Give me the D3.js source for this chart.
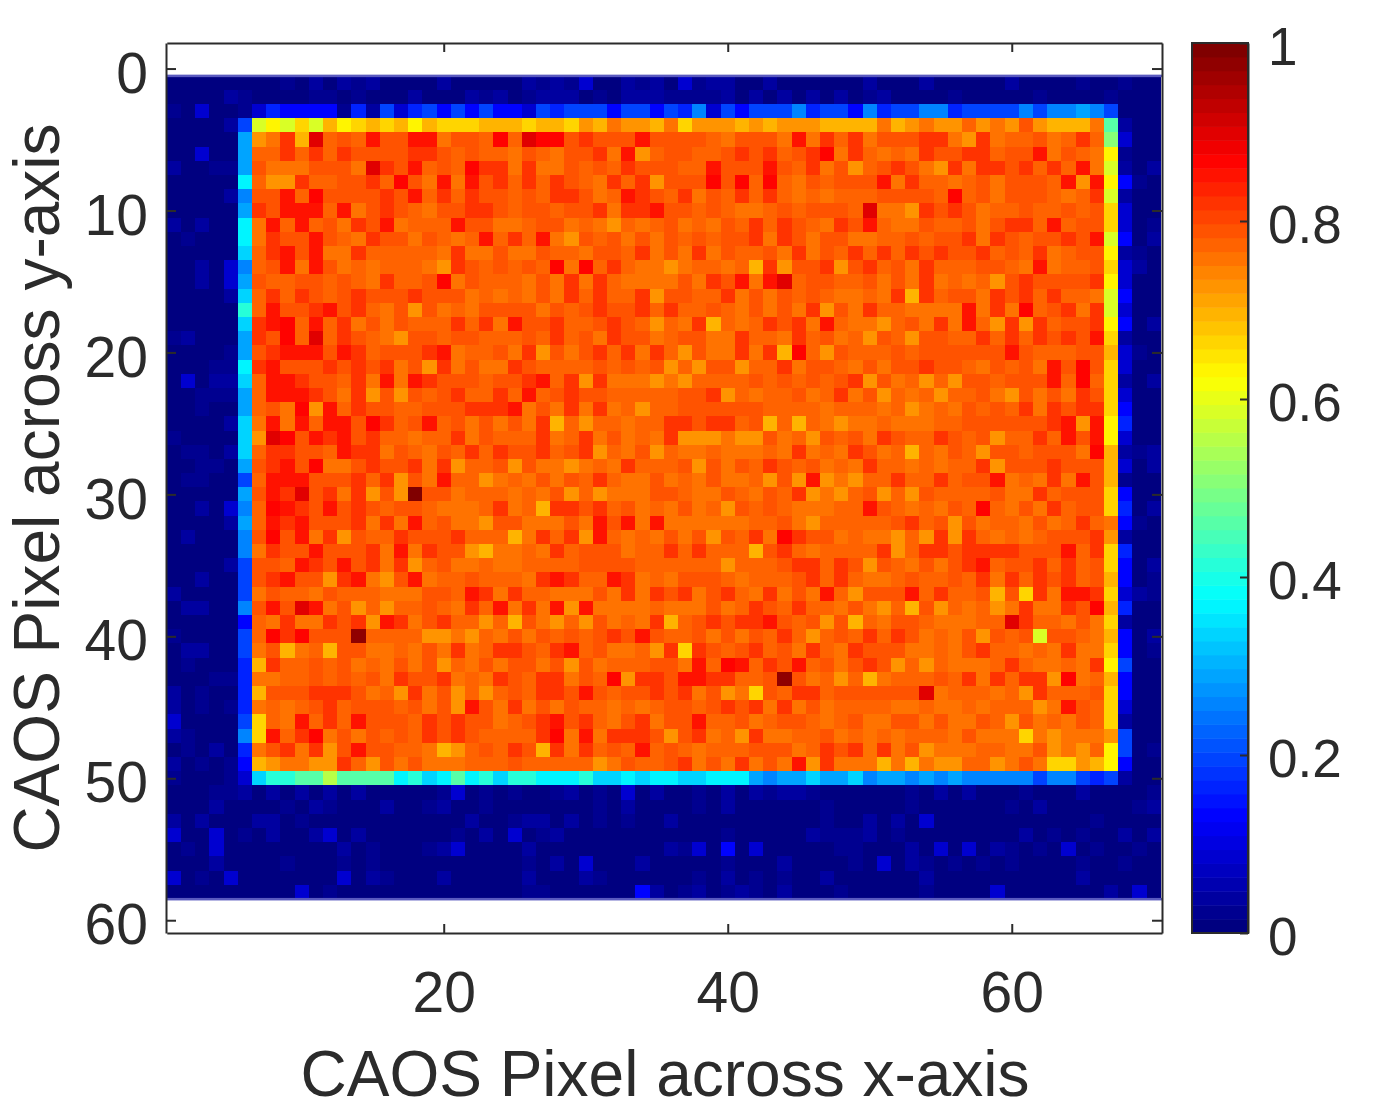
<!DOCTYPE html>
<html>
<head>
<meta charset="utf-8">
<script src="https://cdn.jsdelivr.net/npm/d3@7"></script>
<style>
  html, body { margin: 0; background: #fff; }
  svg { display: block; filter: blur(0.7px); }
  text { font-family: "Liberation Sans", Arial, sans-serif; fill: #2b2b2b; }
</style>
</head>
<body>
<div id="chart"></div>
<script>
// keys used in the rows below and the value each one stands for
var levelKeys = "abcdefghijklmnopqrstuvwxyzABC";
var levelValues = [0, .02, .045, .08, .125, .16, .2, .25, .29, .33, .37, .41, .46, .5, .55, .58, .625,
  .66, .695, .72, .75, .775, .795, .82, .845, .862, .906, .969, 1];

var xTicks = [20, 40, 60];
var yTicks = [0, 10, 20, 30, 40, 50, 60];
var barTicks = [0, 0.2, 0.4, 0.6, 0.8, 1];

// one string per image row, 70 columns (spaces only for reading)
var pixelRows = [
  "aaaaaaaaba cacbcaaaac aaaaacbcbd aacbcadbcc aacaaaaaac aaacaaaaac aaaabaabaa",
  "aaaacbaaaa bbabaaacaa acbcabccca bacccbbbbc acacacacab caaaabaaaa abaaaabaaa",
  "badaabdfee eebfcgdfge gegeedgfgg geggegfhdg eggghfggeh fgghhfgggg hghhihgaaa",
  "aaaacgpqpr psqrsrsqsr rrsssrssrt suttsurttt ststttssss ustuttvtut wtsssumcaa",
  "aaaaaituxs Avwvywwyyu wwvzvAzzwx wwwywwwwvu wwwuyuxvxu wwwxxutxuv vwuvxvndaa",
  "aadaaivvxv xvxwwwwxxw vwvvuwvuww xuytvwwvvw xwxvwxzuxv uvuxwwxxvw wyuwvuqbaa",
  "caabbiwuuu wwwuAxwyvw vzxxuxuuwv wvxwwwvvyw wwywvxuwtv wxwutxuxxw xvxvyupcac",
  "aaaaakvttx vvwwxvzwuy uywxvxvxwv uxvxtwwwzw zvzvuwvwww yuxvvuvwuw wwvytyqeba",
  "aaaachwwyv zwwwwxwyvx vxwwvwvxxw uvyxwvxuwv xvxvuvuvvv wwwwvzvwuw wwvuvxpcaa",
  "aaaaaixwyy yvyuwxwvuw wxxwvwwvww xuxxywwvwv uuvwvwwwvA uutxwxwuvv wvvwvwrdaa",
  "cacaakuyvy vwuxwyuvvv ywwuuvwwuv utvuvwuvuw vxvxwvuxwy vuuwvvwuwx xvyvwwrdab",
  "abaaakuxww ywvuxwwuwv uvyvxvyutw vwuwuwvwvw wxuxwuwwuu vvwvwwxuxw vwwxwypeac",
  "aaaaajvxyw yuuxvvvvvu xuuwuuwvvu wwvxuwuxuw vvwuxuwvxv xvxwxwwxvw vxuvwwqcba",
  "aacadhvwyu ywuvuvvvut xwvwvwvzuz vxvuutuvvu vsxtwwxtwx vwuxvvvwwv uyuvvwrdca",
  "aacadiwvvw wvwvuxvvwz uwvvvuwuxu xvuuuuwuxw yuyAvwwvvw uwuxuvuvtw xwwwwxqdaa",
  "aaaacjvxvx wvwxwwwxww wuvuvuwuxv xvvxtwwvvx uwuwvwvuuv uxsxvwwuxw xvxvvupeaa",
  "aaaaalvyww xywxvuwtwu vuwwwwuwvw xwwxvxvvwv uwuwuxtwux vvuuuuyuxu zvwxuxpdaa",
  "aaaaajxyzv yvxuwuwvvv xvxuywwxvv wxwvtvuxsv uvxwxuyvuu tvwuxuyvtx txvwwxqeac",
  "bcaaaixwzv Avxwvutwwv wwvvvwvxvw uxwwuvwwuu xvvuxvwuvt wvtwwvvxvx vxwxwyrcaa",
  "aaaabiwxyy ywyxvwwwxy uvvwuxtwuw xvxuxvtwuu xuxszvtwvv vwvwwwwwwy wvvvwwsdba",
  "aaabbkxyww wxwxwxuwtx uwuuxwvvvv wvwvwtvtww tvvxuwwvuw uwwxwwvuwv wuywzwrdaa",
  "adaccjvyyx wwvxuyuyxw wwvwwxyvxt xuuututvvv vwvwvwvwxt wuvtvtwwvw wwyvzvrcac",
  "aabbbivyyy xwuxtwtwvw xvvxvyvwxw wvvvvvwwxt vuvvwuvxuw tvuvtvvwut wuwuxwrdaa",
  "aabaaivwuz tyvxwwvvww wxxxyuwuxu xuvtvvwwww wwvvvvuvvv uvtuvuwvwv xuxwxxreaa",
  "aaaacjuyuy vyywzxvwyv wuwuwuxsvt vvuvvxxwxx vwsvsvutuu vuuuvvwwww wwxytyqfaa",
  "baaaajtAzw yxywxvvuvv xuwvvvxuvx uwuvuxtttu ttwuvtwvwu xwvvxwvwtv vxvywyqdaa",
  "abbacjvxxw wvyxxuwvuw vxvxwwxvwx tvuwtvuuvu uuvuxuvuxw uvsvuwvtww vwwwuzscbc",
  "aabbaiwxyw zuuwxwwxux tvvwtwuutu vuxvvvwtwu wvxwvwuvux vvuvuvvxtw wwxwwwsdac",
  "abbaagvyyy wwwxvxtwuy vvtuvuwuwv xvuuwuvuwu uvtwtytutv vxvvxvwwyu vuxuywsbaa",
  "aaaaaiwyxA wxuxtwtCww uvvvuvuwtv tuuuwwvuuw vuwvxtutvw tvtwvvvvwu uxvwwwreaa",
  "aacadhvzyx wywxwvwwvu uuvxuvsxxw xvwuvuwuvt wvwvuuuvvy wvuvuwvzvu wuxvwwrfac",
  "aaaacivyxy wwwxuxuyvw uutwwuuuwu ywyuyuuuuu uvvwutvvvv vwxvwtwuvv uwuvxvueba",
  "acaaahwzwy uxtwvvxwww xvvvsuxvxt yvuvuwuwtw vxuzxwwuvu utvtxtxvuv uvwwwxtcaa",
  "aaaaahuxww ywwwxuyuxw wtsuuvuxvw wwuvvxvxvv vswxvuvvvv xtvxxwxxxx wwwyvxrfaa",
  "aaaacgwwvy xwywxuxtvw uuvuuvvvvw wwwvvvvvvt vvvwxxvxwt wvuwuwxyvw wxvxvwreac",
  "aacaagwxyw wtxyutwyuv vwvvvuxyxv vyxuvuwwwv uvvvwxvxvu uvwvvwvxux vxwxvwseab",
  "caaaaguwvv uwvvvuuuww vyxuxvvuuu wuxuxwxuwx vuxuwuyvtw wwyvxvvwsw rxuyyxrdcb",
  "accaahwywA yuwtvtvvwv uxvyuxuyty uuuuvuuuwu vxwvxvvuwu tvswtvuvtu xuuxwzsfaa",
  "aaaaaevuxu uxwxtyxuwx vvtvswutvt wuvuxsvwxw xxywvwtwsv uwwvuuuvvA xvvuwurcaa",
  "baaaagvzxz wwwBvvvvtt utvuwuwvwv wxwywvvwuw uwvxvtvwvx vxwuvuwtwv wpwwvuseac",
  "accaaguwsu vswwuuvuwu xuvxxwvxyv wuuvtxrxwv wxvwuxvuxw wwuuvuwxvv uvuxuureab",
  "abaaafsxvv wvwuvuwuwt vuwuwwuwtw uvvvwwuyvz yvxwyvwuwx wtvtvuuuvx vuuvuxqgaa",
  "aaabbfuuvv wvwvwuxwwx uvuxwvxxuw vztxxwyyxx vvwBwuvtvs uvvvwvxuxv xxtzuvseaa",
  "cabaafswww xxxwuvtxuw tvtvwvxxwy wvwwxwxuwt urwvxxvwww wwwAuvvvuv txvvvwreaa",
  "cababfuvuv wxvwwwvwuw tywuxuwuwv vuvuvwwvwx wxuxuwuvvv vuuvuuvuvv vtuywvrdaa",
  "daaaagrvuy vxvywwwvxw xwwuvwxywx vuwxuwwyvv wuvwwvuvwu uwwuwuuwvt wuvuwvrcaa",
  "cbaaahryvx zuwuwvwvxw xwvvvvxzuy uxxxwtwxuv txuuvvwuvu vuvvvuwuuu rutuuutgaa",
  "abacafuwxu xtwywwvvus tvwvxwsxux vwvyvwvuvv vwwwuvxwxu xuwtuuuvvu uwtutvqgab",
  "cababestuu ttxvtwuwuu uvvvwvvvvv tuwvvwxuwu xuwuytxuuu susuttvvtu wurrtsqeaa",
  "baaabdjllm mommmmkljk mkljllkkkl jjkjkkjjkk kihiijiijh iihihihhhh hghhgfgcaa",
  "aaabbcacac acacaaaaab dababaabca badacaabac acbccbaaaa aabacacaaa baaacaaaab",
  "aaacaaaaba cbaaacaabc aabaaaaaaa bacaaaabac aaaaaabaaa aabaaaaaab acaaaaaabc",
  "cacaaaccab aaaaaaaaaa acaabccaca babaacaaaa aaaaaabaac acadaaaaaa aaaaabaaaa",
  "daadabacaa cdacaaaaaa bacadabcaa aaaaaaaaab aaaaacbbbc abaaaaaaaa cababaacac",
  "abadaaaaaa aacabaaabc daaaacaaaa aaaaacbdae adaaaaabba aacadadacb abadabaaba",
  "aaacaaaaba aababaaaaa aaaaabacad aaacaaaaab aaacaaaaba dacbababab aaaabaabaa",
  "dabadaaaaa aadacbaaac aaaaacaaac baaaaaabac ababaacaaa aaacaaaaaa aaaacaaaaa",
  "aaaaaaaaad abaaaaaaaa aaaaabbaaa aaaecabcab cbacaaabaa aaabaaaada aaaaaacada"
];

function jet(v) {
  // matlab jet, 64 steps like the colorbar
  var t = Math.min(Math.floor(v * 64), 63) / 63;
  function ramp(c) { return Math.max(0, Math.min(1, 1.5 - Math.abs(4 * t - c))); }
  return d3.rgb(ramp(3) * 255, ramp(2) * 255, ramp(1) * 255).formatHex();
}

var width = 1386, height = 1119;
var ink = "#2b2b2b";

var svg = d3.select("#chart").append("svg")
  .attr("width", width)
  .attr("height", height);

var x = d3.scaleLinear().domain([0.5, 70.58]).range([166.8, 1162]);
var y = d3.scaleLinear().domain([-1.8, 60.9]).range([43, 933]);
var barY = d3.scaleLinear().domain([0, 1]).range([933, 43]);

// heatmap cells
var cells = [];
pixelRows.forEach(function(row, r) {
  row.replace(/ /g, "").split("").forEach(function(key, c) {
    cells.push({ col: c + 1, row: r + 1, value: levelValues[levelKeys.indexOf(key)] });
  });
});

svg.append("g").selectAll("rect").data(cells).join("rect")
  .attr("x", function(d) { return x(d.col - 0.5); })
  .attr("y", function(d) { return y(d.row - 0.5); })
  .attr("width", x(1) - x(0))
  .attr("height", y(1) - y(0))
  .attr("shape-rendering", "crispEdges")
  .attr("fill", function(d) { return jet(d.value); });

// soft lavender rim the scaled image has at its top and bottom
svg.append("g").selectAll("rect").data([0.5, pixelRows.length + 0.5]).join("rect")
  .attr("x", x(0.5))
  .attr("y", function(d) { return y(d) - 1; })
  .attr("width", x(70.58) - x(0.5))
  .attr("height", 2.5)
  .attr("fill", "#5a5abf");

function styleAxis(g, size) {
  g.selectAll("path").attr("stroke", ink).attr("stroke-width", 2);
  g.selectAll("line").attr("stroke", ink).attr("stroke-width", 2);
  g.selectAll("text").attr("fill", ink).style("font-size", (size || 57) + "px");
}

// box axes, ticks point inward
svg.append("g").attr("transform", "translate(0,933)")
  .call(d3.axisBottom(x).tickValues(xTicks).tickSize(-9).tickSizeOuter(0).tickPadding(39))
  .call(styleAxis);
svg.append("g").attr("transform", "translate(0,43)")
  .call(d3.axisTop(x).tickValues(xTicks).tickSize(-9).tickSizeOuter(0).tickFormat(""))
  .call(styleAxis);
svg.append("g").attr("transform", "translate(166,0)")
  .call(d3.axisLeft(y).tickValues(yTicks).tickSize(-10).tickSizeOuter(0).tickPadding(18))
  .call(styleAxis)
  .selectAll("text").attr("dy", "0.66em").attr("y", -14);
svg.append("g").attr("transform", "translate(1162,0)")
  .call(d3.axisRight(y).tickValues(yTicks).tickSize(-10).tickSizeOuter(0).tickFormat(""))
  .call(styleAxis);

// colorbar
var steps = d3.range(64);
svg.append("g").selectAll("rect").data(steps).join("rect")
  .attr("x", 1192)
  .attr("y", function(d) { return barY((d + 1) / 64); })
  .attr("width", 55.5)
  .attr("height", barY(0) - barY(1 / 64) + 0.5)
  .attr("fill", function(d) { return jet((d + 0.5) / 64); });

svg.append("g").attr("transform", "translate(1248,0)")
  .call(d3.axisRight(barY).tickValues(barTicks).tickSize(-8).tickSizeOuter(0).tickPadding(20)
    .tickFormat(function(d) { return d; }))
  .call(function(g) { styleAxis(g, 53); })
  .selectAll("text").attr("dy", "0.36em").attr("y", 2);

svg.append("rect")
  .attr("x", 1192).attr("y", 43)
  .attr("width", 56).attr("height", 890)
  .attr("fill", "none")
  .attr("stroke", ink)
  .attr("stroke-width", 2);

// axis titles
svg.append("text")
  .attr("x", 665).attr("y", 1096)
  .attr("text-anchor", "middle")
  .style("font-size", "64px")
  .text("CAOS Pixel across x-axis");

svg.append("text")
  .attr("transform", "translate(59,488) rotate(-90)")
  .attr("text-anchor", "middle")
  .style("font-size", "64px")
  .text("CAOS Pixel across y-axis");
</script>
</body>
</html>
